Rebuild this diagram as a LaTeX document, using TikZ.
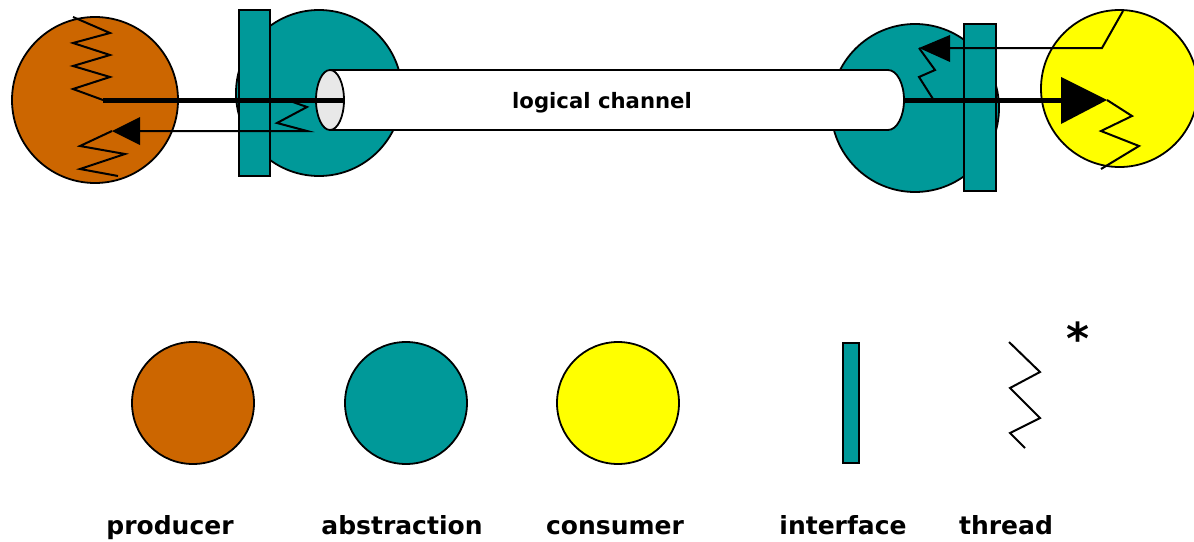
\documentclass[tikz,border=0pt]{standalone}
\usepackage{fontspec}
\setmainfont{DejaVu Sans}
\definecolor{prodc}{HTML}{CC6600}
\definecolor{absc}{HTML}{009999}
\definecolor{consc}{HTML}{FFFF00}
\definecolor{endc}{HTML}{E8E8E8}
\begin{document}
\begin{tikzpicture}[x=1pt,y=-1pt,
  outl/.style={draw=black,line width=1.8pt},
  thr/.style={draw=black,line width=2pt,line join=miter},
  thick/.style={draw=black,line width=5pt},
  lbl/.style={font=\fontsize{25}{30}\selectfont\bfseries,anchor=base,inner sep=0pt}]
\useasboundingbox (0,0) rectangle (1194,541);
% producer
\draw[outl,fill=prodc] (95,100) circle[radius=83pt];
% left abstraction + interface
\draw[outl,fill=absc] (319,93) circle[radius=83pt];
\draw[outl,fill=absc] (239,10) rectangle (270,176);
% right abstraction + interface
\draw[outl,fill=absc] (915,108) circle[radius=84pt];
\draw[outl,fill=absc] (964,24) rectangle (996,191);
% consumer
\draw[outl,fill=consc] (1119.5,88.5) circle[radius=78.5pt];
% channel cylinder
\fill[white] (330,70) -- (888,70) arc[start angle=90,end angle=-90,x radius=16pt,y radius=30pt] -- (330,130) -- cycle;
\draw[outl] (330,70) -- (888,70) arc[start angle=90,end angle=-90,x radius=16pt,y radius=30pt] -- (330,130);
\draw[outl,fill=endc] (330,100) ellipse[x radius=14pt,y radius=30pt];
\node[font=\fontsize{21.2}{25}\selectfont\bfseries,anchor=base,inner sep=0pt] (lc) at (602,108) {logical channel};
% named points
\coordinate (pz) at (103,100);
\coordinate (ce) at (344,100);
\coordinate (cr) at (904,100);
\coordinate (ctip) at (1107,100);
\coordinate (ltip) at (112,131);
\coordinate (lz) at (307,131);
\coordinate (rtip) at (919,48);
\coordinate (rk) at (1102,48);
% producer threads
\draw[thr] (73,17) -- (110,33) -- (73,43) -- (110,55) -- (73,66) -- (110,77) -- (73,89) -- (pz);
\draw[thr] (ltip) -- (80,146) -- (125,154) -- (80,169) -- (118,176);
% thick data flow
\draw[thick] (pz) -- (ce);
\draw[thick] (cr) -- (1062,100);
\fill[black] (ctip) -- (1061,77) -- (1061,124) -- cycle;
% left abstraction thread + back arrow
\draw[thr] (290,101) -- (307,107) -- (277,123) -- (lz) -- (139,131);
\fill[black] (ltip) -- (140,117) -- (140,145) -- cycle;
% consumer thread
\draw[thr] (ctip) -- (1132,116) -- (1101,131) -- (1139,146) -- (1101,169);
% right abstraction thread + back arrow
\draw[thr] (933,99) -- (919,77) -- (935,70) -- (rtip);
\draw[thr] (1123,11) -- (rk) -- (949,48);
\fill[black] (rtip) -- (950,35) -- (950,62) -- cycle;
% legend
\draw[outl,fill=prodc] (193,403) circle[radius=61pt];
\draw[outl,fill=absc] (406,403) circle[radius=61pt];
\draw[outl,fill=consc] (618,403) circle[radius=61pt];
\draw[outl,fill=absc] (843,343) rectangle (859,463);
\draw[thr] (1009,342) -- (1040,372) -- (1010,388) -- (1040,418) -- (1010,433) -- (1025,448);
\node[font=\fontsize{44}{50}\selectfont\bfseries,inner sep=0pt] (ast) at (1078,338) {*};
\node[lbl] (l1) at (170,534) {producer};
\node[lbl] (l2) at (402,534) {abstraction};
\node[lbl] (l3) at (615,534) {consumer};
\node[lbl] (l4) at (843,534) {interface};
\node[lbl] (l5) at (1006,534) {thread};
\end{tikzpicture}
\end{document}
